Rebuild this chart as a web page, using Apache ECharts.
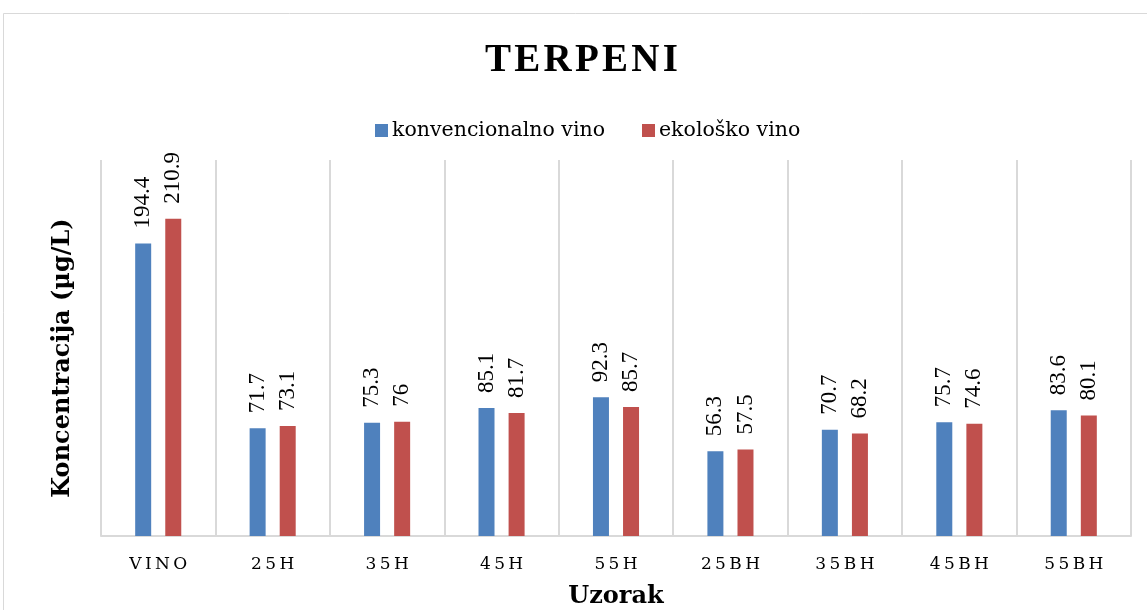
<!DOCTYPE html>
<html>
<head>
<meta charset="utf-8">
<script src="https://cdn.jsdelivr.net/npm/echarts@6/dist/echarts.min.js"></script>
<style>
  html, body { margin: 0; padding: 0; background: #fff; }
  #main { width: 1147px; height: 610px; }
</style>
</head>
<body>
<div id="main"></div>
<script>
var categories = ['VINO', '25H', '35H', '45H', '55H', '25BH', '35BH', '45BH', '55BH'];
var konvencionalno = [194.4, 71.7, 75.3, 85.1, 92.3, 56.3, 70.7, 75.7, 83.6];
var ekolosko = [210.9, 73.1, 76, 81.7, 85.7, 57.5, 68.2, 74.6, 80.1];

var serif = '"DejaVu Serif", "Liberation Serif", serif';
var times = '"Liberation Serif", "DejaVu Serif", serif';

function spaced(s, sep) {
	return s.split('').join(sep);
}

var myChart = echarts.init(document.getElementById('main'));

var labelStyle = {
	show: true,
	position: 'top',
	rotate: 90,
	align: 'left',
	verticalAlign: 'middle',
	distance: 15,
	fontFamily: times,
	fontSize: 23,
	color: '#000'
};

option = {
	backgroundColor: '#fff',
	animation: false,
	graphic: [{
		type: 'rect',
		shape: { x: 3.5, y: 13.5, width: 1160, height: 620 },
		style: { fill: 'none', stroke: '#d9d9d9', lineWidth: 1 }
	}],
	title: {
		text: spaced('TERPENI', '\u200A'),
		left: 480,
		top: 36,
		textStyle: {
			fontFamily: times,
			fontWeight: 'bold',
			fontSize: 39,
			color: '#000'
		}
	},
	legend: {
		data: ['konvencionalno vino', 'ekološko vino'],
		top: 115,
		left: 370,
		icon: 'rect',
		itemWidth: 13,
		itemHeight: 13,
		itemGap: 37,
		textStyle: {
			fontFamily: serif,
			fontSize: 20.5,
			color: '#000',
			padding: [0, 0, 0, -1]
		}
	},
	grid: {
		left: 101,
		right: 16,
		top: 160,
		bottom: 74,
		outerBoundsMode: 'none'
	},
	xAxis: {
		type: 'category',
		data: categories,
		name: 'Uzorak',
		nameLocation: 'middle',
		nameGap: 49,
		nameTextStyle: {
			fontFamily: serif,
			fontWeight: 'bold',
			fontSize: 24,
			color: '#000'
		},
		axisLine: { lineStyle: { color: '#d9d9d9', width: 2 } },
		axisTick: { show: false },
		splitLine: { show: true, lineStyle: { color: '#d9d9d9', width: 2 } },
		axisLabel: {
			margin: 20,
			fontFamily: serif,
			fontSize: 17,
			color: '#000',
			formatter: function (v) { return spaced(v, '\u2009'); }
		}
	},
	yAxis: {
		type: 'value',
		min: 0,
		max: 250,
		name: 'Koncentracija (µg/L)',
		nameLocation: 'middle',
		nameGap: 26,
		nameTextStyle: {
			fontFamily: serif,
			fontWeight: 'bold',
			fontSize: 24,
			color: '#000',
			padding: [0, 20, 0, 0]
		},
		axisLine: { show: false },
		axisTick: { show: false },
		axisLabel: { show: false },
		splitLine: { show: false }
	},
	series: [
		{
			name: 'konvencionalno vino',
			type: 'bar',
			barWidth: 16,
			barGap: '88%',
			itemStyle: { color: '#4F81BD' },
			label: labelStyle,
			data: konvencionalno
		},
		{
			name: 'ekološko vino',
			type: 'bar',
			barWidth: 16,
			itemStyle: { color: '#C0504D' },
			label: labelStyle,
			data: ekolosko
		}
	]
};

myChart.setOption(option);
</script>
</body>
</html>
